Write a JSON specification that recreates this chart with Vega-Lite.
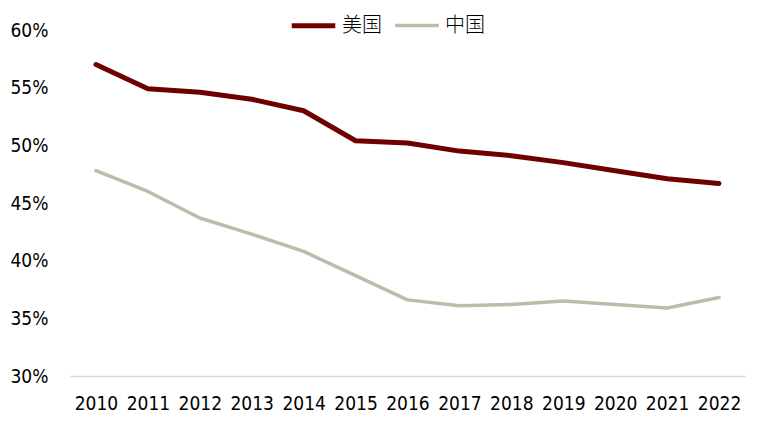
{
  "$schema": "https://vega.github.io/schema/vega-lite/v6.json",
  "width": 675,
  "height": 346,
  "autosize": {"type": "none"},
  "padding": {"left": 70, "top": 30, "right": 21, "bottom": 56},
  "background": "white",
  "config": {
    "view": {"stroke": null},
    "font": "Liberation Sans Narrow, DejaVu Sans Condensed, sans-serif"
  },
  "data": {
    "values": [
      {"year": "2010", "country": "美国", "v": 0.570},
      {"year": "2011", "country": "美国", "v": 0.549},
      {"year": "2012", "country": "美国", "v": 0.546},
      {"year": "2013", "country": "美国", "v": 0.540},
      {"year": "2014", "country": "美国", "v": 0.530},
      {"year": "2015", "country": "美国", "v": 0.504},
      {"year": "2016", "country": "美国", "v": 0.502},
      {"year": "2017", "country": "美国", "v": 0.495},
      {"year": "2018", "country": "美国", "v": 0.491},
      {"year": "2019", "country": "美国", "v": 0.485},
      {"year": "2020", "country": "美国", "v": 0.478},
      {"year": "2021", "country": "美国", "v": 0.471},
      {"year": "2022", "country": "美国", "v": 0.467},
      {"year": "2010", "country": "中国", "v": 0.478},
      {"year": "2011", "country": "中国", "v": 0.460},
      {"year": "2012", "country": "中国", "v": 0.437},
      {"year": "2013", "country": "中国", "v": 0.423},
      {"year": "2014", "country": "中国", "v": 0.408},
      {"year": "2015", "country": "中国", "v": 0.387},
      {"year": "2016", "country": "中国", "v": 0.366},
      {"year": "2017", "country": "中国", "v": 0.361},
      {"year": "2018", "country": "中国", "v": 0.362},
      {"year": "2019", "country": "中国", "v": 0.365},
      {"year": "2020", "country": "中国", "v": 0.362},
      {"year": "2021", "country": "中国", "v": 0.359},
      {"year": "2022", "country": "中国", "v": 0.368}
    ]
  },
  "mark": {"type": "line", "strokeCap": "round", "strokeJoin": "round"},
  "encoding": {
    "x": {
      "field": "year",
      "type": "ordinal",
      "scale": {"type": "point", "padding": 0.5},
      "axis": {
        "title": null,
        "labelAngle": 0,
        "labelFontSize": 19,
        "labelColor": "#000000",
        "labelPadding": 18,
        "ticks": false,
        "grid": false,
        "domainColor": "#d9d9d9",
        "domainWidth": 1.5
      }
    },
    "y": {
      "field": "v",
      "type": "quantitative",
      "scale": {"domain": [0.3, 0.6], "nice": false, "zero": false},
      "axis": {
        "title": null,
        "format": ".0%",
        "values": [0.3, 0.35, 0.4, 0.45, 0.5, 0.55, 0.6],
        "labelFontSize": 19,
        "labelColor": "#000000",
        "labelPadding": 22,
        "ticks": false,
        "grid": false,
        "domain": false
      }
    },
    "color": {
      "field": "country",
      "type": "nominal",
      "scale": {"domain": ["美国", "中国"], "range": ["#6e0000", "#bcbcaa"]},
      "legend": {
        "title": null,
        "orient": "none",
        "direction": "horizontal",
        "legendX": 219,
        "legendY": -29,
        "symbolType": "stroke",
        "symbolSize": 1900,
        "symbolStrokeWidth": 5,
        "labelFontSize": 20,
        "labelFont": "Noto Sans CJK SC",
        "labelFontWeight": 300,
        "labelColor": "#000000",
        "columnPadding": 6,
        "labelOffset": 4
      }
    },
    "strokeWidth": {
      "field": "country",
      "type": "nominal",
      "scale": {"domain": ["美国", "中国"], "range": [5, 3.5]},
      "legend": null
    }
  }
}
